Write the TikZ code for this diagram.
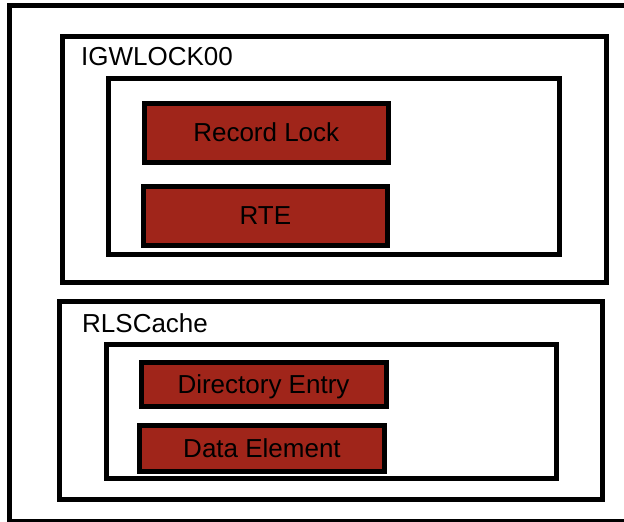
\documentclass[tikz,border=0pt]{standalone}
\usepackage{fontspec}
\setmainfont{Liberation Sans}
\definecolor{brick}{HTML}{A0251A}
\begin{document}
\begin{tikzpicture}[x=1pt,y=-1pt,
  frame/.style={draw=black,line width=5pt,fill=white,inner sep=0pt,outer sep=0pt},
  item/.style={draw=black,line width=5pt,fill=brick,inner sep=0pt,outer sep=0pt,
    text=black,text height=18.6pt,text depth=0pt,font=\fontsize{26}{30}\selectfont},
  title/.style={anchor=base west,inner sep=0pt,font=\fontsize{26}{30}\selectfont}]
\useasboundingbox (0,0) rectangle (624,522);
\clip (0,0) rectangle (624,522);
\fill[white] (0,0) rectangle (624,522);
% outer frame, running past the right and bottom edges
\node[frame,minimum width=630.5pt,minimum height=516pt] (outer) at (324.75,263) {};
% IGWLOCK00 structure
\node[frame,minimum width=544.5pt,minimum height=246pt] (igw) at (334.25,159) {};
\node[title] (igwlabel) at (81,65.7) {IGWLOCK00};
\node[frame,minimum width=451pt,minimum height=176pt] (igwin) at (334,166.5) {};
\node[item,minimum width=244.5pt,minimum height=59pt] (reclock) at (266.25,132.5) {Record Lock};
\node[item,minimum width=244.7pt,minimum height=59pt] (rte) at (265.35,215.5) {RTE};
% RLSCache structure
\node[frame,minimum width=543.5pt,minimum height=198.25pt] (rls) at (330.75,400.6) {};
\node[title] (rlslabel) at (82,332.7) {RLSCache};
\node[frame,minimum width=450pt,minimum height=134.5pt] (rlsin) at (331,411.25) {};
\node[item,minimum width=245pt,minimum height=44.5pt] (direntry) at (263.5,384.25) {Directory Entry};
\node[item,minimum width=245pt,minimum height=46pt] (dataelem) at (262,448) {Data Element};
\end{tikzpicture}
\end{document}
